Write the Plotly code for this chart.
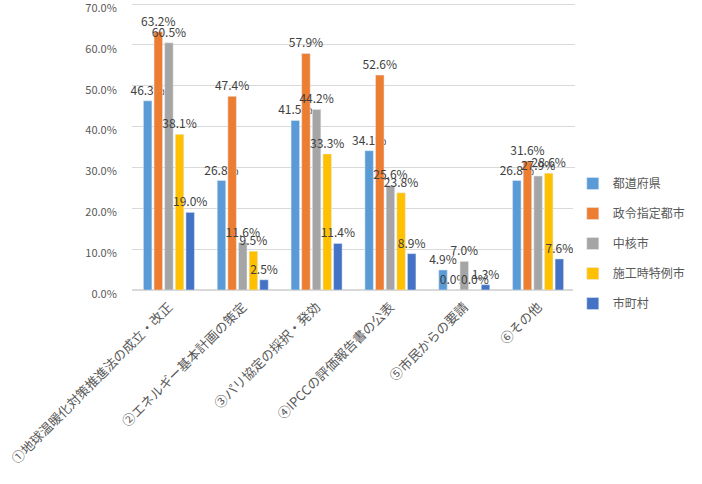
import plotly.graph_objects as go

categories = ["①地球温暖化対策推進法の成立・改正", "②エネルギー基本計画の策定", "③パリ協定の採択・発効",
              "④IPCCの評価報告書の公表", "⑤市民からの要請", "⑥その他"]
series_names = ["都道府県", "政令指定都市", "中核市", "施工時特例市", "市町村"]
v_pref = [46.3, 26.8, 41.5, 34.1, 4.9, 26.8]
v_desig = [63.2, 47.4, 57.9, 52.6, 0.0, 31.6]
v_core = [60.5, 11.6, 44.2, 25.6, 7.0, 27.9]
v_special = [38.1, 9.5, 33.3, 23.8, 0.0, 28.6]
v_muni = [19.0, 2.5, 11.4, 8.9, 1.3, 7.6]
colors = ["#5B9BD5", "#ED7D31", "#A5A5A5", "#FFC000", "#4472C4"]
y_ticks = [0, 0.1, 0.2, 0.3, 0.4, 0.5, 0.6, 0.7]
y_tick_text = ["0.0%", "10.0%", "20.0%", "30.0%", "40.0%", "50.0%", "60.0%", "70.0%"]

FONT = "Noto Sans CJK JP"
fig = go.Figure()
for name, vals, col in zip(series_names, [v_pref, v_desig, v_core, v_special, v_muni], colors):
    fig.add_trace(go.Bar(
        x=categories, y=[v / 100 for v in vals], name=name, marker_color=col,
        text=[f"{v:.1f}%" for v in vals], textposition="outside", constraintext="none",
        cliponaxis=False, textfont=dict(family=FONT, size=12, color="#404040"),
        legendgroup=name,
    ))

fig.update_layout(
    width=702, height=484, paper_bgcolor="white", plot_bgcolor="white",
    margin=dict(l=132, r=127, t=2, b=194, autoexpand=False),
    barmode="group", bargap=0.28, bargroupgap=0.2,
    font=dict(family=FONT, color="#595959"),
    legend=dict(x=0.995, y=0.42, xanchor="left", yanchor="top", tracegroupgap=11,
                font=dict(family=FONT, size=12, color="#595959"), itemwidth=30),
    showlegend=True,
)
fig.update_yaxes(range=[0, 0.705], tickmode="array", tickvals=y_ticks, ticktext=y_tick_text,
                 showgrid=True, gridcolor="#D9D9D9", gridwidth=1,
                 zeroline=True, zerolinecolor="#D9D9D9", showline=False,
                 ticks="outside", ticklen=12, tickcolor="rgba(0,0,0,0)", ticklabeloverflow="allow",
                 ticklabelshift=4,
                 tickfont=dict(family=FONT, size=11, color="#595959"), automargin=False)
fig.update_xaxes(tickangle=-45, showline=False, automargin=False, ticklabelstandoff=6,
                 tickfont=dict(family=FONT, size=13, color="#595959"))

fig.write_html("out.html")
